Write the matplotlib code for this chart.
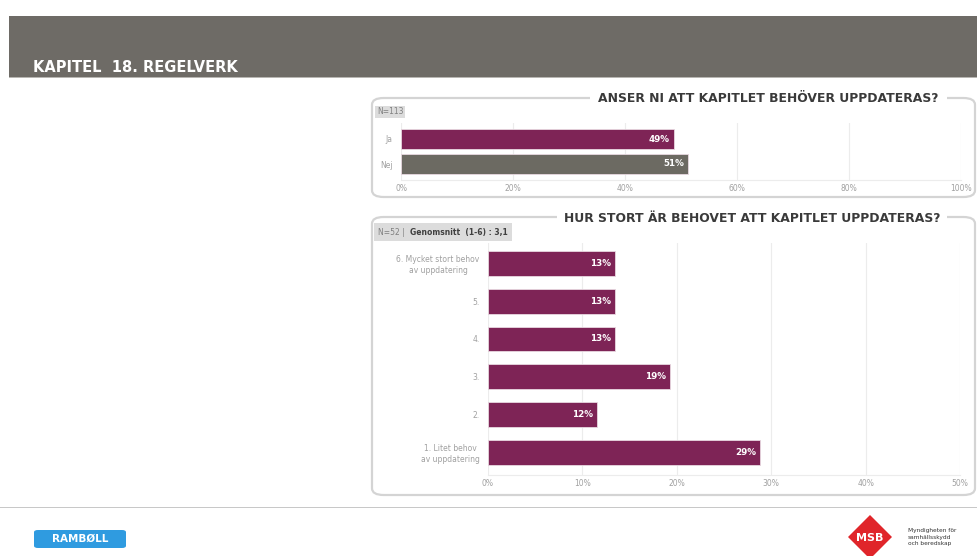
import matplotlib
matplotlib.use("Agg")
import matplotlib.pyplot as plt
from matplotlib.patches import FancyBboxPatch, Rectangle, Polygon

# ---------------- data ----------------
header_title = "KAPITEL  18. REGELVERK"

q1_title = "ANSER NI ATT KAPITLET BEHÖVER UPPDATERAS?"
q1_note = "N=113"
q1_categories = ["Ja", "Nej"]
q1_values = [48.7, 51.3]
q1_labels = ["49%", "51%"]
q1_ticks = [0, 20, 40, 60, 80, 100]
q1_ticklabels = ["0%", "20%", "40%", "60%", "80%", "100%"]

q2_title = "HUR STORT ÄR BEHOVET ATT KAPITLET UPPDATERAS?"
q2_note_n = "N=52 | "
q2_note_mean = "Genomsnitt  (1-6) : 3,1"
q2_categories = ["6. Mycket stort behov\nav uppdatering", "5.", "4.", "3.", "2.",
                 "1. Litet behov\nav uppdatering"]
q2_values = [13.46, 13.46, 13.46, 19.23, 11.54, 28.85]
q2_labels = ["13%", "13%", "13%", "19%", "12%", "29%"]
q2_ticks = [0, 10, 20, 30, 40, 50]
q2_ticklabels = ["0%", "10%", "20%", "30%", "40%", "50%"]

# ---------------- styling ----------------
W, H = 977, 556
PURPLE = "#7e2456"
GRAY_BAR = "#6c6a62"
HEADER = "#6e6b66"
TICK_C = "#a0a0a0"
FONT = "DejaVu Sans"

fig = plt.figure(figsize=(W / 100, H / 100), dpi=100)
fig.patch.set_facecolor("white")


def fx(px):
    return px / W


def fy(py):
    return 1 - py / H


def add_axes_px(x0, y0, x1, y1, **kw):
    return fig.add_axes([fx(x0), fy(y1), fx(x1) - fx(x0), (y1 - y0) / H], **kw)


# header band
fig.patches.append(Rectangle((fx(9), fy(77)), fx(977) - fx(9), (77 - 16) / H,
                             transform=fig.transFigure, facecolor=HEADER,
                             edgecolor="none", zorder=0))
fig.patches.append(Rectangle((fx(9), fy(78)), fx(977) - fx(9), 1.5 / H,
                             transform=fig.transFigure, facecolor="#b8b6b2",
                             edgecolor="none", zorder=0))
fig.text(fx(33), fy(72), header_title, color="white", fontsize=10.5,
         fontweight="bold", family=FONT, va="baseline", ha="left")

# footer line
fig.patches.append(Rectangle((0, fy(508)), 1, 1.2 / H, transform=fig.transFigure,
                             facecolor="#c8c8c8", edgecolor="none"))


def panel(x0, y0, x1, y1, title, title_x0, title_x1):
    box = FancyBboxPatch((fx(x0), fy(y1)), fx(x1) - fx(x0), (y1 - y0) / H,
                         boxstyle="round,pad=0,rounding_size=0.012",
                         transform=fig.transFigure, facecolor="white",
                         edgecolor="#d4d4d4", linewidth=1.6, zorder=1)
    fig.patches.append(box)
    # white gap behind title
    fig.patches.append(Rectangle((fx(title_x0), fy(y0 + 3)), fx(title_x1) - fx(title_x0),
                                 6 / H, transform=fig.transFigure,
                                 facecolor="white", edgecolor="none", zorder=2))
    fig.text(fx((title_x0 + title_x1) / 2), fy(y0 + 1), title, ha="center", va="center",
             fontsize=8.9, fontweight="bold", color="#3a3a3a", family=FONT, zorder=3)


panel(372, 98, 975, 197, q1_title, 590, 947)
panel(372, 217, 975, 495, q2_title, 557, 947)

# notes
fig.text(fx(377), fy(112), q1_note, fontsize=5.5, color="#808080", family=FONT,
         va="center", ha="left",
         bbox=dict(boxstyle="square,pad=0.25", facecolor="#dcdcdc", edgecolor="none"),
         zorder=4)
fig.text(fx(378), fy(232), q2_note_n, fontsize=5.5, color="#808080", family=FONT,
         va="center", ha="left",
         bbox=dict(boxstyle="square,pad=0.55", facecolor="#dcdcdc", edgecolor="none"),
         zorder=4)
fig.text(fx(410), fy(232), q2_note_mean, fontsize=5.5, color="#404040", family=FONT,
         fontweight="bold", va="center", ha="left",
         bbox=dict(boxstyle="square,pad=0.55", facecolor="#dcdcdc", edgecolor="none"),
         zorder=4)


def bar_axes(ax, cats, vals, labels, colors, ticks, ticklabels, xmax, ylim, height):
    ax.set_zorder(10)
    ypos = list(range(len(cats)))
    ax.barh(ypos, vals, height=height, color=colors, edgecolor="#e8d8e0",
            linewidth=0.6, zorder=3)
    for y, v, lab in zip(ypos, vals, labels):
        ax.text(v - xmax * 0.008, y, lab, ha="right", va="center", color="white",
                fontsize=6.3, fontweight="bold", family=FONT, zorder=4)
    ax.set_xlim(0, xmax)
    ax.set_ylim(*ylim)
    ax.set_yticks(ypos)
    ax.set_yticklabels(cats, fontsize=5.5, color=TICK_C, family=FONT)
    for lab in ax.get_yticklabels():
        lab.set_horizontalalignment("right")
        lab.set_multialignment("center")
    ax.set_xticks(ticks)
    ax.set_xticklabels(ticklabels, fontsize=5.5, color=TICK_C, family=FONT)
    ax.tick_params(axis="y", length=0, pad=6)
    ax.tick_params(axis="x", length=0, pad=3)
    ax.grid(axis="x", color="#ececec", linewidth=0.8, zorder=0)
    for s in ["top", "right", "left"]:
        ax.spines[s].set_visible(False)
    ax.spines["bottom"].set_color("#ececec")
    ax.set_facecolor("none")


ax1 = add_axes_px(401, 123, 961, 180)
bar_axes(ax1, q1_categories, q1_values, q1_labels, [PURPLE, GRAY_BAR], q1_ticks,
         q1_ticklabels, 100, (1.64, -0.64), 0.78)

ax2 = add_axes_px(488, 243, 960, 475)
bar_axes(ax2, q2_categories, q2_values, q2_labels, [PURPLE] * 6, q2_ticks,
         q2_ticklabels, 50, (5.6, -0.54), 0.66)

# logos
fig.patches.append(FancyBboxPatch((fx(34), fy(548)), fx(126) - fx(34), 18 / H,
                                  boxstyle="round,pad=0,rounding_size=0.004",
                                  transform=fig.transFigure, facecolor="#2f9be0",
                                  edgecolor="none"))
fig.text(fx(80), fy(539), "RAMBØLL", ha="center", va="center", color="white",
         fontsize=7.5, fontweight="bold", family=FONT)

cx, cy, r = 870, 537, 22
fig.patches.append(Polygon([(fx(cx), fy(cy - r)), (fx(cx + r), fy(cy)),
                            (fx(cx), fy(cy + r)), (fx(cx - r), fy(cy))],
                           closed=True, transform=fig.transFigure,
                           facecolor="#e0252a", edgecolor="none"))
fig.text(fx(cx), fy(cy + 1), "MSB", ha="center", va="center", color="white",
         fontsize=8, fontweight="bold", family=FONT)
fig.text(fx(908), fy(537), "Myndigheten för\nsamhällsskydd\noch beredskap",
         ha="left", va="center", fontsize=4.2, color="#333333", family=FONT,
         linespacing=1.3)

fig.savefig("out.png", dpi=100, facecolor="white")
